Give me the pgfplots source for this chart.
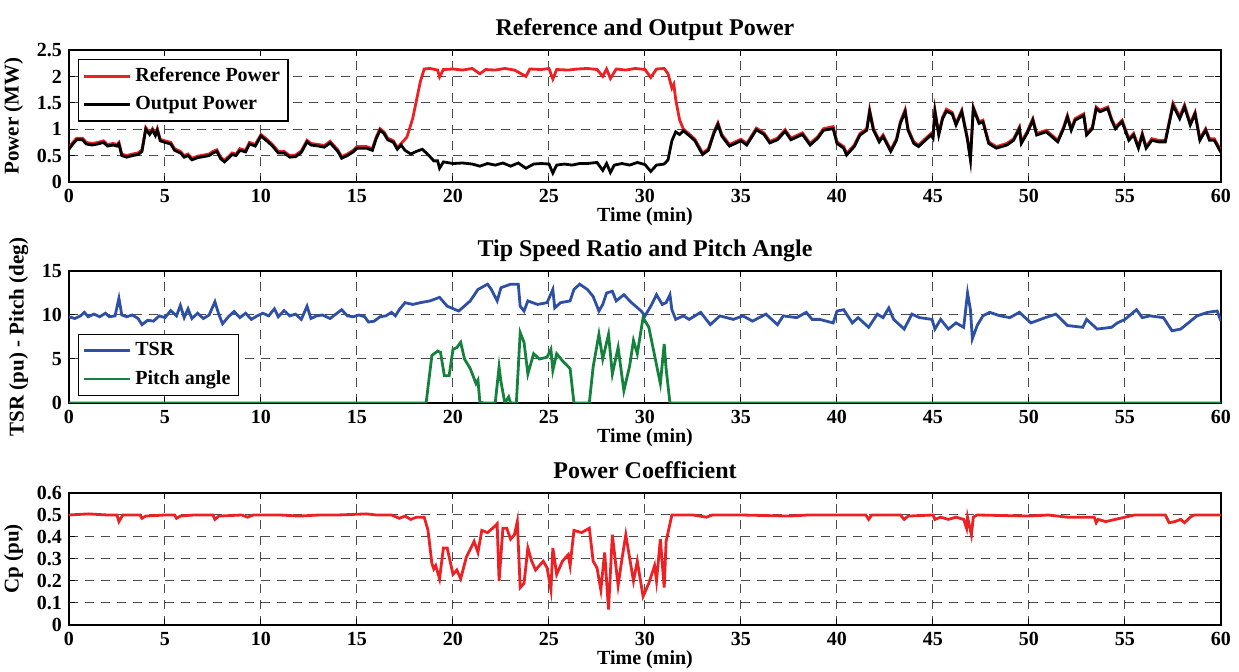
\documentclass[border=0pt]{standalone}
\usepackage{fontspec}
\setmainfont{Liberation Serif}
\usepackage{pgfplots}
\usepackage{pgfplotstable}
\pgfplotsset{compat=1.18}
\definecolor{cred}{RGB}{237,32,36}
\definecolor{cblue}{RGB}{45,80,165}
\definecolor{cgreen}{RGB}{20,130,60}

\pgfplotstableread{
t out
0 0.62
0.2 0.72
0.4 0.80
0.7 0.80
0.9 0.72
1.2 0.70
1.5 0.72
1.8 0.75
2.0 0.68
2.3 0.70
2.5 0.68
2.6 0.72
2.75 0.50
3.0 0.47
3.3 0.50
3.6 0.52
3.8 0.58
4.0 1.00
4.2 0.90
4.35 0.98
4.5 0.88
4.6 0.98
4.75 0.78
5.0 0.75
5.3 0.72
5.5 0.60
5.8 0.55
6.0 0.47
6.2 0.50
6.4 0.42
6.7 0.46
7.0 0.48
7.3 0.50
7.5 0.55
7.7 0.58
7.9 0.44
8.1 0.38
8.3 0.45
8.5 0.52
8.7 0.50
8.9 0.60
9.2 0.57
9.4 0.72
9.7 0.68
10.0 0.87
10.3 0.78
10.6 0.68
10.9 0.55
11.2 0.55
11.5 0.47
11.8 0.48
12.1 0.56
12.4 0.76
12.6 0.70
13.0 0.68
13.3 0.66
13.6 0.74
13.8 0.66
14.0 0.58
14.2 0.45
14.5 0.50
14.8 0.57
15.0 0.64
15.5 0.64
15.8 0.60
16.0 0.82
16.2 0.98
16.4 0.92
16.6 0.80
16.9 0.75
17.1 0.62
17.3 0.70
17.5 0.60
17.8 0.53
18.1 0.58
18.4 0.62
18.7 0.52
19.0 0.40
19.2 0.40
19.3 0.26
19.5 0.38
20.0 0.35
20.5 0.36
21.0 0.34
21.4 0.30
21.8 0.35
22.2 0.32
22.6 0.36
23.0 0.30
23.4 0.36
23.8 0.26
24.2 0.34
24.6 0.35
25.0 0.34
25.2 0.17
25.4 0.32
25.8 0.34
26.2 0.32
26.6 0.35
27.0 0.35
27.5 0.37
27.8 0.22
28.0 0.35
28.2 0.18
28.4 0.32
28.8 0.35
29.2 0.32
29.6 0.37
30.0 0.33
30.3 0.20
30.6 0.32
31.0 0.34
31.2 0.42
31.4 0.78
31.6 0.95
31.8 0.90
32.0 0.97
32.3 0.88
32.6 0.78
33.0 0.52
33.3 0.60
33.6 0.93
33.8 1.09
34.0 0.87
34.4 0.68
35.0 0.78
35.3 0.70
35.8 0.99
36.2 0.90
36.5 0.74
36.9 0.80
37.3 0.96
37.6 0.80
38.2 0.90
38.6 0.70
39.0 0.83
39.3 0.98
39.8 1.01
40.0 0.73
40.35 0.64
40.5 0.51
40.9 0.67
41.2 0.89
41.55 0.98
41.7 1.33
41.9 0.98
42.2 0.76
42.4 0.86
42.8 0.58
43.1 0.79
43.3 1.11
43.55 1.33
43.7 0.98
44.0 0.73
44.25 0.67
44.6 0.79
44.9 0.89
45.0 0.83
45.1 1.33
45.3 0.89
45.5 1.20
45.7 1.34
46.0 1.29
46.2 1.08
46.5 1.33
46.8 0.79
46.95 0.42
47.1 1.39
47.4 1.11
47.6 1.14
47.9 0.73
48.3 0.64
48.85 0.70
49.2 0.79
49.5 1.01
49.6 0.73
49.9 0.92
50.2 1.17
50.4 0.89
50.9 0.95
51.5 0.76
51.8 1.01
52.0 1.23
52.2 0.98
52.4 1.17
52.85 1.26
53.0 0.89
53.3 1.01
53.5 1.39
53.7 1.33
54.1 1.39
54.3 1.17
54.5 1.01
54.85 1.14
55.2 0.79
55.45 0.89
55.7 0.64
55.9 0.89
56.1 0.64
56.4 0.79
56.75 0.76
57.1 0.76
57.5 1.45
57.85 1.20
58.1 1.42
58.4 1.08
58.65 1.29
58.9 0.79
59.2 0.98
59.4 0.79
59.65 0.79
60.0 0.56
}\outtable

\pgfplotstableread{
t ref
0 0.65
0.2 0.75
0.4 0.83
0.7 0.83
0.9 0.75
1.2 0.73
1.5 0.75
1.8 0.78
2.0 0.71
2.3 0.73
2.5 0.71
2.6 0.75
2.75 0.53
3.0 0.50
3.3 0.53
3.6 0.55
3.8 0.61
4.0 1.03
4.2 0.93
4.35 1.01
4.5 0.91
4.6 1.01
4.75 0.81
5.0 0.78
5.3 0.75
5.5 0.63
5.8 0.58
6.0 0.50
6.2 0.53
6.4 0.45
6.7 0.49
7.0 0.51
7.3 0.53
7.5 0.58
7.7 0.61
7.9 0.47
8.1 0.41
8.3 0.48
8.5 0.55
8.7 0.53
8.9 0.63
9.2 0.60
9.4 0.75
9.7 0.71
10.0 0.90
10.3 0.81
10.6 0.71
10.9 0.58
11.2 0.58
11.5 0.50
11.8 0.51
12.1 0.59
12.4 0.79
12.6 0.73
13.0 0.71
13.3 0.69
13.6 0.77
13.8 0.69
14.0 0.61
14.2 0.48
14.5 0.53
14.8 0.60
15.0 0.67
15.5 0.67
15.8 0.63
16.0 0.85
16.2 1.01
16.4 0.95
16.6 0.83
16.9 0.78
17.1 0.65
17.3 0.73
17.6 0.85
17.9 1.20
18.1 1.55
18.3 1.90
18.5 2.14
18.8 2.15
19.2 2.12
19.3 1.99
19.5 2.13
20.0 2.14
20.5 2.12
21.0 2.15
21.4 2.05
21.7 2.13
22.2 2.12
22.7 2.15
23.2 2.12
23.8 2.00
24.0 2.14
24.6 2.13
25.0 2.15
25.2 1.95
25.4 2.13
26.0 2.12
26.5 2.14
27.0 2.15
27.5 2.13
27.8 2.00
28.0 2.14
28.2 1.96
28.5 2.14
29.0 2.12
29.5 2.15
30.0 2.13
30.3 1.98
30.6 2.14
31.0 2.15
31.2 2.05
31.4 1.78
31.5 1.85
31.6 1.56
31.8 1.18
32.0 1.00
32.3 0.91
32.6 0.81
33.0 0.55
33.3 0.63
33.6 0.96
33.8 1.12
34.0 0.90
34.4 0.71
35.0 0.81
35.3 0.73
35.8 1.02
36.2 0.93
36.5 0.77
36.9 0.83
37.3 0.99
37.6 0.83
38.2 0.93
38.6 0.73
39.0 0.86
39.3 1.01
39.8 1.05
40.0 0.76
40.35 0.67
40.5 0.54
40.9 0.70
41.2 0.92
41.55 1.01
41.7 1.37
41.9 1.01
42.2 0.79
42.4 0.89
42.8 0.61
43.1 0.82
43.3 1.14
43.55 1.37
43.7 1.01
44.0 0.76
44.25 0.70
44.6 0.82
44.9 0.92
45.0 0.86
45.1 1.37
45.3 0.92
45.5 1.23
45.7 1.38
46.0 1.32
46.2 1.11
46.5 1.36
46.8 0.82
46.95 0.45
47.1 1.42
47.4 1.14
47.6 1.17
47.9 0.76
48.3 0.67
48.85 0.73
49.2 0.82
49.5 1.04
49.6 0.76
49.9 0.95
50.2 1.20
50.4 0.92
50.9 0.98
51.5 0.79
51.8 1.04
52.0 1.26
52.2 1.01
52.4 1.20
52.85 1.29
53.0 0.92
53.3 1.04
53.5 1.42
53.7 1.36
54.1 1.42
54.3 1.20
54.5 1.04
54.85 1.17
55.2 0.82
55.45 0.92
55.7 0.67
55.9 0.92
56.1 0.67
56.4 0.82
56.75 0.79
57.1 0.79
57.5 1.49
57.85 1.24
58.1 1.46
58.4 1.11
58.65 1.32
58.9 0.82
59.2 1.01
59.4 0.82
59.65 0.82
60.0 0.59
}\reftable

\pgfplotstableread{
t tsr
0 9.8
0.3 9.6
0.6 9.9
0.8 10.3
1.0 9.8
1.3 10.1
1.6 9.8
1.9 10.2
2.1 9.8
2.4 9.9
2.6 11.9
2.75 10.0
3.0 9.8
3.3 10.0
3.6 9.6
3.8 8.9
4.1 9.4
4.4 9.3
4.7 9.9
5.0 9.7
5.3 10.5
5.6 9.9
5.8 11.1
6.0 9.7
6.2 10.7
6.4 9.6
6.7 10.2
7.0 9.6
7.3 10.0
7.6 11.5
7.8 10.1
8.0 9.0
8.3 9.8
8.6 10.4
8.9 9.7
9.2 10.2
9.5 9.5
9.8 9.9
10.1 10.2
10.4 9.9
10.7 10.7
10.9 9.8
11.2 10.5
11.5 9.9
11.8 10.1
12.1 9.5
12.4 11.0
12.6 9.6
12.9 9.9
13.2 10.0
13.6 9.6
13.9 10.1
14.2 10.6
14.5 9.9
14.8 9.8
15.1 10.0
15.4 9.8
15.6 9.2
15.9 9.3
16.2 9.8
16.5 9.9
16.8 10.3
17.0 9.9
17.2 10.6
17.5 11.4
17.9 11.2
18.3 11.4
18.8 11.6
19.3 12.0
19.7 11.0
20.3 10.45
20.9 11.6
21.3 12.9
21.8 13.5
22.0 12.9
22.3 11.6
22.5 13.1
23.0 13.5
23.4 13.5
23.5 11.0
23.7 10.45
23.9 11.6
24.4 11.2
24.9 11.4
25.2 12.9
25.3 10.8
25.6 11.4
26.1 11.6
26.3 12.9
26.6 13.5
27.0 12.9
27.3 12.1
27.6 10.45
27.8 11.2
28.0 12.5
28.3 12.7
28.5 11.6
28.9 12.3
29.3 11.4
29.8 10.45
30.0 9.9
30.3 11.0
30.6 12.3
30.9 11.2
31.1 11.4
31.3 12.3
31.4 10.6
31.6 9.5
32.0 9.9
32.3 9.5
32.9 10.3
33.4 8.9
33.9 9.9
34.6 9.5
35.1 9.9
35.6 9.3
36.3 10.1
36.9 8.9
37.2 9.9
37.9 9.7
38.4 10.3
38.7 9.5
39.1 9.5
39.8 9.1
40.0 10.45
40.35 10.6
40.8 9.1
41.1 9.7
41.65 8.6
42.1 10.1
42.4 9.7
42.7 10.8
42.95 9.5
43.5 8.4
43.9 10.1
44.3 9.7
44.95 9.5
45.1 8.4
45.4 9.5
45.8 8.4
46.2 9.1
46.6 8.6
46.8 12.5
46.95 10.6
47.05 7.3
47.3 8.8
47.6 9.9
47.95 10.3
48.5 9.9
49.0 9.7
49.5 10.3
50.1 9.1
50.85 9.7
51.4 10.1
52.0 8.8
52.8 8.6
53.0 9.5
53.55 8.4
54.3 8.6
54.6 9.1
55.0 9.5
55.6 10.6
55.9 9.7
56.3 9.9
57.0 9.7
57.45 8.2
57.9 8.4
58.3 9.1
58.75 9.9
59.3 10.3
59.8 10.45
60.0 9.3
}\tsrtable

\pgfplotstableread{
t pitch
0 0
18.6 0
18.9 5.4
19.2 5.9
19.35 5.75
19.55 3.1
19.8 3.1
20.0 6.1
20.2 6.3
20.4 6.9
20.6 5.0
20.9 3.9
21.2 2.2
21.3 2.6
21.4 0.1
21.6 0
22.2 0
22.4 4.1
22.5 2.4
22.7 0
22.9 0.7
23.0 0
23.3 0
23.5 8.0
23.7 6.9
23.9 3.3
24.2 5.6
24.5 5.0
24.9 5.2
25.1 6.1
25.2 3.7
25.4 5.6
25.7 4.8
26.1 3.9
26.3 0
27.1 0
27.3 4.1
27.6 7.8
27.8 5.0
28.1 7.8
28.3 3.3
28.6 6.3
28.9 1.4
29.2 4.2
29.4 7.1
29.6 5.6
29.9 9.7
30.2 8.6
30.5 5.4
30.8 2.2
31.0 6.7
31.1 3.9
31.3 0
60 0
}\pitchtable

\pgfplotstableread{
t cp
0 0.50
1.0 0.505
2.0 0.50
2.5 0.50
2.6 0.47
2.8 0.50
3.7 0.50
3.8 0.485
4.0 0.495
5.0 0.50
5.5 0.50
5.6 0.485
5.8 0.495
6.5 0.50
7.5 0.50
7.6 0.48
7.8 0.495
9.0 0.50
9.3 0.49
9.6 0.50
11.0 0.50
12.0 0.495
13.0 0.50
14.0 0.50
15.5 0.505
16.0 0.50
16.8 0.50
17.2 0.485
17.5 0.495
17.8 0.48
18.1 0.49
18.5 0.49
18.7 0.43
18.9 0.28
19.0 0.255
19.1 0.27
19.3 0.21
19.5 0.35
19.7 0.35
20.0 0.23
20.2 0.25
20.4 0.21
20.7 0.31
21.1 0.38
21.3 0.33
21.5 0.43
21.8 0.42
22.2 0.45
22.3 0.46
22.4 0.20
22.6 0.44
22.8 0.44
23.0 0.39
23.2 0.41
23.35 0.47
23.5 0.17
23.7 0.19
23.9 0.35
24.1 0.29
24.3 0.25
24.7 0.29
24.9 0.26
25.1 0.16
25.2 0.35
25.4 0.23
25.7 0.29
26.0 0.32
26.1 0.27
26.3 0.43
26.7 0.42
27.1 0.44
27.3 0.29
27.5 0.26
27.7 0.16
27.9 0.33
28.1 0.07
28.3 0.41
28.6 0.18
28.8 0.30
29.0 0.41
29.4 0.20
29.6 0.29
29.9 0.13
30.2 0.19
30.5 0.27
30.6 0.20
30.8 0.39
31.0 0.17
31.1 0.38
31.4 0.50
32.5 0.50
33.2 0.49
33.5 0.50
35.0 0.50
37.5 0.495
38.5 0.50
40.0 0.50
41.5 0.50
41.65 0.48
41.8 0.50
43.3 0.50
43.5 0.48
43.7 0.495
45.0 0.50
45.1 0.48
45.4 0.49
45.8 0.48
46.2 0.49
46.6 0.48
46.75 0.44
46.8 0.49
47.0 0.41
47.1 0.49
47.3 0.50
50.0 0.495
51.0 0.50
52.0 0.49
52.8 0.49
53.4 0.49
53.5 0.465
53.6 0.48
54.0 0.47
54.5 0.48
55.0 0.49
55.5 0.50
57.1 0.50
57.3 0.465
57.6 0.47
57.9 0.48
58.1 0.465
58.4 0.49
58.6 0.50
60.0 0.50
}\cptable

\pgfplotsset{
  panel/.style={
    scale only axis, width=576pt, height=66pt,
    xmin=0, xmax=60, xtick={0,5,...,60},
    grid=major,
    major grid style={dash pattern=on 4.5pt off 3.5pt, black!70, line width=0.5pt},
    tick align=inside, tick style={black, line width=0.5pt},
    major tick length=3pt,
    axis line style={black, line width=0.7pt},
    xlabel style={font=\bfseries\fontsize{10}{11}\selectfont, yshift=4.5pt},
    ylabel style={font=\bfseries\fontsize{10.5}{12}\selectfont},
    tick label style={font=\bfseries\fontsize{10}{11}\selectfont},
    /pgf/number format/assume math mode=true,
    title style={font=\bfseries\fontsize{12}{14}\selectfont, yshift=-5pt, text depth=0.25em},
    xlabel={Time (min)},
    legend style={font=\bfseries\fontsize{10}{11}\selectfont, draw=black, line width=0.6pt, inner sep=2pt, row sep=2pt},
    legend cell align=left,
    legend image code/.code={\draw[#1, line width=1.4pt] (0pt,0pt) -- (23pt,0pt);},
    every axis plot/.append style={line width=1.4pt},
  }
}

\begin{document}
\begin{tikzpicture}
\begin{axis}[panel, at={(0,0)}, anchor=north west,
  ymin=0, ymax=2.5, ytick={0,0.5,...,2.5},
  yticklabels={0,0.5,1,1.5,2,2.5},
  ylabel={Power (MW)},
  title={Reference and Output Power},
  legend style={at={(0,1)}, anchor=north west, xshift=4.5pt, yshift=-4.5pt}]
\addplot[cred] table[x=t,y=ref] {\reftable};
\addlegendentry{Reference Power}
\addplot[black] table[x=t,y=out] {\outtable};
\addlegendentry{Output Power}
\end{axis}

\begin{axis}[panel, at={(0,-110.5pt)}, anchor=north west,
  ymin=0, ymax=15, ytick={0,5,10,15},
  ylabel={TSR (pu) - Pitch (deg)},
  title={Tip Speed Ratio and Pitch Angle},
  legend style={at={(0,0)}, anchor=south west, xshift=4.5pt, yshift=3.5pt}]
\addplot[cblue] table[x=t,y=tsr] {\tsrtable};
\addlegendentry{TSR}
\addplot[cgreen] table[x=t,y=pitch] {\pitchtable};
\addlegendentry{Pitch angle}
\end{axis}

\begin{axis}[panel, at={(0,-221.5pt)}, anchor=north west,
  ymin=0, ymax=0.6, ytick={0,0.1,...,0.6},
  yticklabels={0,0.1,0.2,0.3,0.4,0.5,0.6},
  ylabel={Cp (pu)},
  title={Power Coefficient}]
\addplot[cred] table[x=t,y=cp] {\cptable};
\end{axis}
\pgfresetboundingbox
\path[use as bounding box] (-34.5pt,25pt) rectangle (585pt,-311pt);
\end{tikzpicture}
\end{document}
